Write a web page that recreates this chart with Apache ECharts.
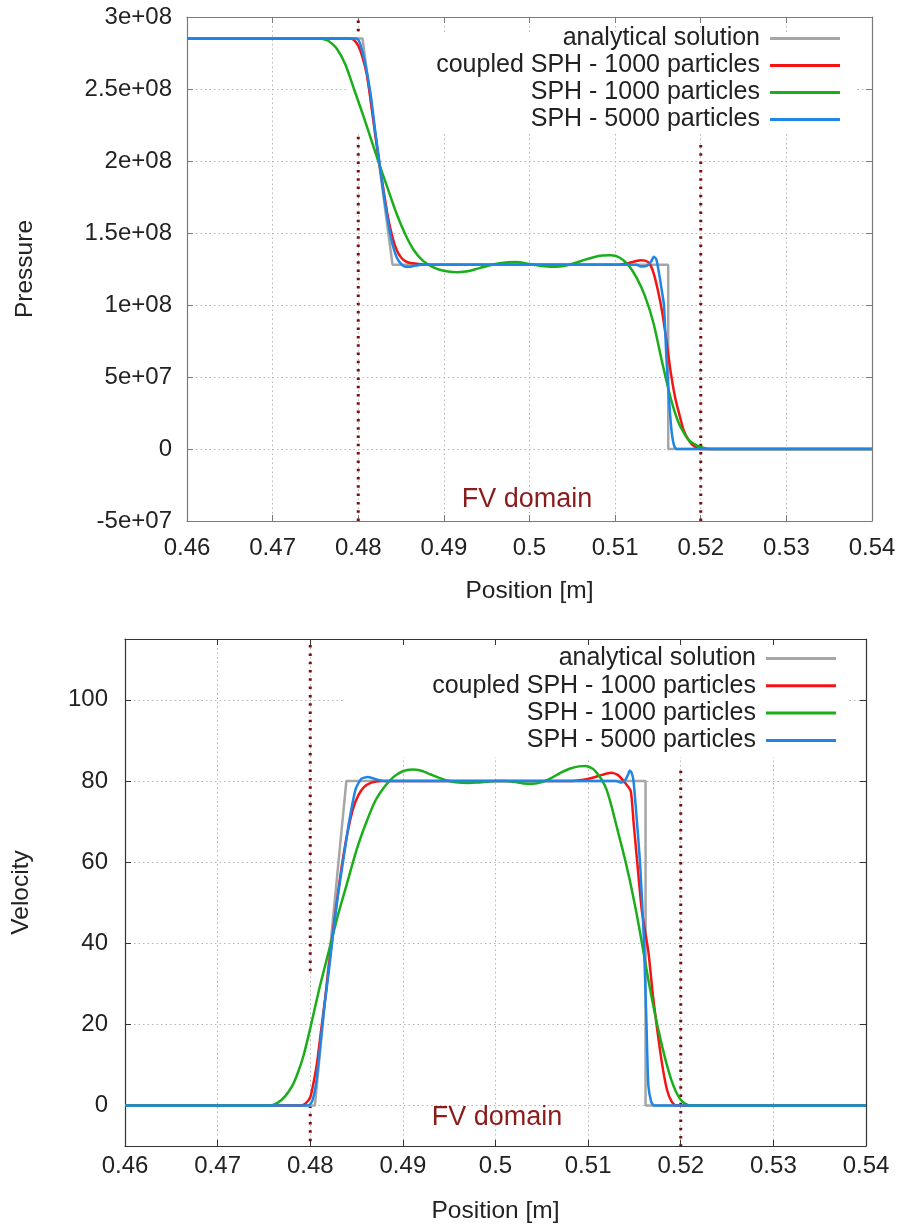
<!DOCTYPE html>
<html><head><meta charset="utf-8">
<script src="https://cdn.jsdelivr.net/npm/echarts@6/dist/echarts.min.js"></script>
<style>html,body{margin:0;padding:0;background:#fff}#c{width:901px;height:1227px}</style>
</head><body><div id="c"></div><script>
// ---------- data ----------
const seriesNames = ['analytical solution', 'coupled SPH - 1000 particles', 'SPH - 1000 particles', 'SPH - 5000 particles'];
const xTicks = [0.46, 0.47, 0.48, 0.49, 0.50, 0.51, 0.52, 0.53, 0.54];
const xTickLabels = ['0.46', '0.47', '0.48', '0.49', '0.5', '0.51', '0.52', '0.53', '0.54'];
const pressureTicks = [-5e7, 0, 5e7, 1e8, 1.5e8, 2e8, 2.5e8, 3e8];
const pressureTickLabels = ['-5e+07', '0', '5e+07', '1e+08', '1.5e+08', '2e+08', '2.5e+08', '3e+08'];
const velocityTicks = [0, 20, 40, 60, 80, 100];
const velocityTickLabels = ['0', '20', '40', '60', '80', '100'];
const fvBounds = [0.48, 0.52];

const pressureAnalytical = [[0.46,2.85e8],[0.4805,2.85e8],[0.4840,1.28e8],[0.5162,1.28e8],[0.5162,0],[0.54,0]];
const pressureCoupled1000 = [[0.46,2.85e8],[0.479,2.85e8],[0.4795,2.84e8],[0.48,2.8e8],[0.4805,2.72e8],[0.481,2.6e8],[0.4815,2.4e8],[0.482,2.18e8],[0.4825,1.97e8],[0.483,1.78e8],[0.4835,1.6e8],[0.484,1.47e8],[0.4845,1.38e8],[0.485,1.33e8],[0.4855,1.305e8],[0.486,1.293e8],[0.487,1.285e8],[0.488,1.28e8],[0.5105,1.28e8],[0.5115,1.29e8],[0.5125,1.305e8],[0.513,1.31e8],[0.5135,1.308e8],[0.514,1.29e8],[0.5145,1.22e8],[0.515,1.1e8],[0.5155,0.95e8],[0.516,0.75e8],[0.5165,0.53e8],[0.517,0.36e8],[0.5175,0.24e8],[0.518,0.13e8],[0.5185,0.07e8],[0.519,0.03e8],[0.5195,0.01e8],[0.52,0],[0.54,0]];
const pressureSph1000 = [[0.46,2.85e8],[0.4755,2.85e8],[0.4765,2.835e8],[0.4775,2.78e8],[0.4785,2.67e8],[0.4795,2.5e8],[0.4805,2.33e8],[0.4815,2.15e8],[0.4825,1.97e8],[0.4835,1.8e8],[0.4845,1.63e8],[0.4855,1.49e8],[0.4865,1.38e8],[0.4875,1.31e8],[0.4885,1.27e8],[0.4895,1.245e8],[0.4905,1.232e8],[0.4915,1.228e8],[0.4925,1.232e8],[0.4935,1.245e8],[0.4945,1.262e8],[0.4955,1.278e8],[0.4965,1.29e8],[0.4975,1.297e8],[0.4985,1.298e8],[0.4995,1.29e8],[0.5005,1.28e8],[0.5015,1.27e8],[0.5025,1.265e8],[0.5035,1.267e8],[0.5045,1.277e8],[0.5055,1.295e8],[0.5065,1.315e8],[0.5075,1.332e8],[0.5085,1.343e8],[0.5095,1.345e8],[0.5105,1.33e8],[0.5115,1.28e8],[0.5125,1.19e8],[0.5135,1.06e8],[0.5145,0.87e8],[0.5155,0.6e8],[0.5165,0.35e8],[0.5175,0.17e8],[0.5185,0.07e8],[0.5195,0.025e8],[0.5205,0.005e8],[0.521,0],[0.54,0]];
const pressureSph5000 = [[0.46,2.85e8],[0.4798,2.85e8],[0.4803,2.8e8],[0.481,2.62e8],[0.4815,2.44e8],[0.482,2.2e8],[0.4825,1.98e8],[0.483,1.76e8],[0.4835,1.57e8],[0.484,1.42e8],[0.4845,1.33e8],[0.485,1.285e8],[0.4855,1.265e8],[0.486,1.265e8],[0.4865,1.272e8],[0.4875,1.28e8],[0.5125,1.28e8],[0.513,1.268e8],[0.5137,1.272e8],[0.5142,1.3e8],[0.5145,1.335e8],[0.5148,1.32e8],[0.5151,1.23e8],[0.5154,1.12e8],[0.5157,1.0e8],[0.516,0.62e8],[0.5163,0.34e8],[0.5166,0.12e8],[0.5169,0.02e8],[0.5172,0],[0.54,0]];

const velocityAnalytical = [[0.46,0],[0.4805,0],[0.4839,80],[0.5162,80],[0.5162,0],[0.54,0]];
const velocityCoupled1000 = [[0.46,0],[0.479,0],[0.4795,0.5],[0.48,2],[0.4803,5],[0.4807,10],[0.4812,19],[0.4817,28],[0.4822,38],[0.4828,49],[0.4834,59],[0.484,67],[0.4846,73],[0.4852,76.5],[0.4858,78.5],[0.4866,79.6],[0.4876,80],[0.508,80],[0.5095,80.3],[0.5105,80.8],[0.5115,81.5],[0.5125,82],[0.5132,81.5],[0.514,79.5],[0.5146,77.5],[0.5149,70],[0.5153,60],[0.5158,48],[0.5165,38],[0.517,27],[0.5175,18],[0.518,10],[0.5185,4],[0.519,1],[0.5195,0],[0.54,0]];
const velocitySph1000 = [[0.46,0],[0.4757,0],[0.4765,0.7],[0.4773,2.3],[0.4781,5],[0.4787,8.3],[0.4793,12.5],[0.48,19],[0.481,29],[0.482,38],[0.483,47],[0.484,55],[0.485,63],[0.486,69.5],[0.487,75],[0.488,78.5],[0.489,81],[0.49,82.4],[0.491,82.8],[0.492,82.5],[0.493,81.6],[0.494,80.7],[0.495,80],[0.496,79.6],[0.497,79.5],[0.498,79.6],[0.499,79.8],[0.5,80],[0.501,80],[0.502,79.8],[0.503,79.4],[0.504,79.3],[0.505,79.7],[0.506,80.7],[0.507,82],[0.508,83],[0.509,83.6],[0.5097,83.7],[0.5105,83],[0.511,81.8],[0.5115,80.2],[0.512,77.8],[0.5125,74],[0.513,69.5],[0.5135,65],[0.514,60.5],[0.5145,55.5],[0.515,50],[0.5155,44],[0.516,37.5],[0.5165,31],[0.517,25],[0.5175,19.5],[0.518,14.5],[0.5185,10],[0.519,6.2],[0.5195,3.3],[0.52,1.4],[0.5205,0.4],[0.521,0],[0.54,0]];
const velocitySph5000 = [[0.46,0],[0.4798,0],[0.4802,1],[0.4806,5],[0.481,13],[0.4815,24],[0.482,33],[0.4825,43],[0.483,52],[0.4836,61],[0.4842,70],[0.4849,78],[0.4855,80.5],[0.4862,81],[0.487,80.5],[0.488,80],[0.513,80],[0.5136,79.6],[0.514,80.2],[0.5143,81.5],[0.5145,82.6],[0.5147,82],[0.5149,80],[0.5152,72],[0.5156,60],[0.516,42],[0.5163,20],[0.5165,5],[0.5168,1],[0.5171,0],[0.54,0]];

// FV domain boundary segments (x, y-extent) for each panel
const pressureFv = [[fvBounds[0],-5e7],[fvBounds[0],3e8],[null,null],[fvBounds[1],-5e7],[fvBounds[1],2.15e8]];
const velocityFv = [[fvBounds[0],113.5],[fvBounds[0],32],[null,null],[fvBounds[0],0],[fvBounds[0],-10],[null,null],[fvBounds[1],82.5],[fvBounds[1],-10]];

// ---------- styling ----------
const FONT = '"Liberation Sans", Arial, sans-serif';
const colors = ['#a6a6a6', '#f51414', '#1aae1a', '#1f86e6'];
const gridColor = '#b5b5b5';
const fvColor = '#7d0d0d';
const TICK_FS = 24, LEG_FS = 25, NAME_FS = 24.5;

function lookup(ticks, labels, v) {
  for (let i = 0; i < ticks.length; i++) {
    if (Math.abs(ticks[i] - v) <= Math.abs(ticks[1] - ticks[0]) * 1e-6) return labels[i];
  }
  return '';
}

function xAxes(grid, borderColor, labelMargin, nameGap) {
  return [{
    gridIndex: grid, type: 'value', position: 'bottom', min: 0.46, max: 0.54, interval: 0.01,
    axisLine: {show: true, onZero: false, lineStyle: {color: borderColor, width: 1.2}},
    axisTick: {show: true, inside: true, length: 6, lineStyle: {color: borderColor}},
    axisLabel: {fontSize: TICK_FS, color: '#222', fontFamily: FONT, margin: labelMargin,
      formatter: v => lookup(xTicks, xTickLabels, v)},
    splitLine: {show: true, lineStyle: {color: gridColor, type: [1.5, 3], width: 1}},
    name: 'Position [m]', nameLocation: 'middle', nameGap: nameGap,
    nameTextStyle: {fontSize: NAME_FS, color: '#222', fontFamily: FONT}
  }, {
    gridIndex: grid, type: 'value', position: 'top', min: 0.46, max: 0.54, interval: 0.01,
    axisLine: {show: true, onZero: false, lineStyle: {color: borderColor, width: 1.2}},
    axisTick: {show: true, inside: true, length: 6, lineStyle: {color: borderColor}},
    axisLabel: {show: false}, splitLine: {show: false}
  }];
}

const option = {
  animation: false,
  backgroundColor: '#fff',
  grid: [
    {left: 187, right: 29, top: 17, height: 504},
    {left: 125, right: 35, top: 639, height: 507}
  ],
  xAxis: [].concat(xAxes(0, '#7a7a7a', 15, 58), xAxes(1, '#333', 8, 53)),
  yAxis: [
    {gridIndex: 0, type: 'value', position: 'left', min: -5e7, max: 3e8, interval: 5e7,
      axisLine: {show: true, onZero: false, lineStyle: {color: '#7a7a7a', width: 1.2}},
      axisTick: {show: true, inside: true, length: 6, lineStyle: {color: '#7a7a7a'}},
      axisLabel: {fontSize: TICK_FS, color: '#222', fontFamily: FONT, margin: 15,
        formatter: v => lookup(pressureTicks, pressureTickLabels, v)},
      splitLine: {show: true, lineStyle: {color: gridColor, type: [1.5, 3], width: 1}},
      name: 'Pressure', nameLocation: 'middle', nameGap: 149, nameRotate: 90,
      nameTextStyle: {fontSize: NAME_FS, color: '#222', fontFamily: FONT}},
    {gridIndex: 0, type: 'value', position: 'right', min: -5e7, max: 3e8, interval: 5e7,
      axisLine: {show: true, onZero: false, lineStyle: {color: '#7a7a7a', width: 1.2}},
      axisTick: {show: true, inside: true, length: 6, lineStyle: {color: '#7a7a7a'}},
      axisLabel: {show: false}, splitLine: {show: false}},
    {gridIndex: 1, type: 'value', position: 'left', min: -10, max: 115,
      axisLine: {show: true, onZero: false, lineStyle: {color: '#333', width: 1.2}},
      axisTick: {show: true, inside: true, length: 6, lineStyle: {color: '#333'}, customValues: velocityTicks},
      axisLabel: {fontSize: TICK_FS, color: '#222', fontFamily: FONT, margin: 17, customValues: velocityTicks,
        formatter: v => lookup(velocityTicks, velocityTickLabels, v)},
      splitLine: {show: true, lineStyle: {color: gridColor, type: [1.5, 3], width: 1}},
      name: 'Velocity', nameLocation: 'middle', nameGap: 91, nameRotate: 90,
      nameTextStyle: {fontSize: NAME_FS, color: '#222', fontFamily: FONT}},
    {gridIndex: 1, type: 'value', position: 'right', min: -10, max: 115,
      axisLine: {show: true, onZero: false, lineStyle: {color: '#333', width: 1.2}},
      axisTick: {show: true, inside: true, length: 6, lineStyle: {color: '#333'}, customValues: velocityTicks},
      axisLabel: {show: false, customValues: velocityTicks}, splitLine: {show: false}}
  ],
  legend: [
    {data: seriesNames, orient: 'vertical', align: 'right', right: 61, top: 26, itemWidth: 70, itemHeight: 3,
      itemGap: 2, icon: 'rect', padding: 0, selectedMode: false,
      textStyle: {fontSize: LEG_FS, color: '#222', fontFamily: FONT, padding: [0, 5, 0, 0]}},
    {data: seriesNames, orient: 'vertical', align: 'right', right: 65, top: 646, itemWidth: 70, itemHeight: 3,
      itemGap: 2.3, icon: 'rect', padding: 0, selectedMode: false,
      textStyle: {fontSize: LEG_FS, color: '#222', fontFamily: FONT, padding: [0, 5, 0, 0]}}
  ],
  graphic: [
    {type: 'rect', z: 1, silent: true, shape: {x: 348, y: 33, width: 507, height: 100}, style: {fill: '#fff'}},
    {type: 'rect', z: 1, silent: true, shape: {x: 343, y: 646, width: 505, height: 111}, style: {fill: '#fff'}},
    {type: 'text', z: 3, silent: true, x: 527, y: 500,
      style: {text: 'FV domain', fill: '#8b1c1c', font: '27px ' + FONT, align: 'center', verticalAlign: 'middle', textAlign: 'center', textVerticalAlign: 'middle'}},
    {type: 'text', z: 3, silent: true, x: 497, y: 1118,
      style: {text: 'FV domain', fill: '#8b1c1c', font: '27px ' + FONT, align: 'center', verticalAlign: 'middle', textAlign: 'center', textVerticalAlign: 'middle'}}
  ],
  series: []
};

const pressureData = [pressureAnalytical, pressureCoupled1000, pressureSph1000, pressureSph5000];
const velocityData = [velocityAnalytical, velocityCoupled1000, velocitySph1000, velocitySph5000];

function fvSeries(data, ax) {
  return {type: 'line', name: 'FV', xAxisIndex: ax, yAxisIndex: ax, data: data, symbol: 'none', showSymbol: false,
    connectNulls: false, z: 0.5, silent: true,
    lineStyle: {color: fvColor, width: 3, type: [2.5, 5.8], cap: 'butt'}};
}
option.series.push(fvSeries(pressureFv, 0));
option.series.push(fvSeries(velocityFv, 2));

[[pressureData, 0], [velocityData, 2]].forEach(([set, ax]) => {
  set.forEach((d, i) => {
    option.series.push({
      type: 'line', name: seriesNames[i], xAxisIndex: ax, yAxisIndex: ax, data: d,
      symbol: 'none', showSymbol: false, smooth: i === 0 ? false : 0.2, z: 2 + i * 0.01,
      color: colors[i], itemStyle: {color: colors[i]},
      lineStyle: {color: colors[i], width: 2.5}
    });
  });
});

const chart = echarts.init(document.getElementById('c'));
chart.setOption(option);
</script></body></html>
